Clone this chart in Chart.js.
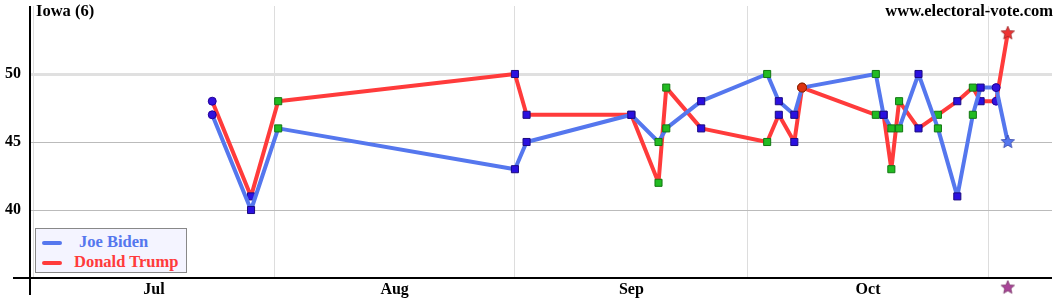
<!DOCTYPE html>
<html>
<head>
<meta charset="utf-8">
<script src="https://cdn.jsdelivr.net/npm/chart.js@4.4.0/dist/chart.umd.min.js"></script>
<style>
  body { margin: 0; background: #fff; }
  #wrap { position: relative; width: 1060px; height: 300px; font-family: 'Liberation Serif', 'Times New Roman', serif; font-weight: bold; }
  .tag { position: absolute; font-size: 16.5px; color: #000; line-height: 18px; }
  #state { left: 36px; top: 2px; }
  #site { right: 7px; top: 2px; }
  #legend { position: absolute; left: 35px; top: 228px; width: 150px; height: 43px; background: #f4f4ff; border: 1px solid #888; }
  .item { position: absolute; left: 6px; height: 20px; font-size: 16.5px; line-height: 20px; white-space: nowrap; }
  .swatch { display: inline-block; width: 20px; height: 4px; border-radius: 2px; vertical-align: middle; margin-right: 12px; }
</style>
</head>
<body>
<div id="wrap">
  <canvas id="myChart" width="1060" height="300"></canvas>
  <div class="tag" id="state"></div>
  <div class="tag" id="site"></div>
  <div id="legend"></div>
</div>
<script>
'use strict';

const stateTitle = 'Iowa (6)';
const siteName = 'www.electoral-vote.com';

// days counted from Jul 1
const monthNames = ['Jul', 'Aug', 'Sep', 'Oct'];
const monthStarts = [0, 31, 62, 92, 123];
const yTicks = [40, 45, 50];

const pollDays = [23, 28, 31.5, 62, 63.5, 77, 80.5, 81.5, 86, 94.5, 96, 98, 99, 108.5, 109.5, 110.5, 111.5, 114, 116.5, 119, 121, 122, 124, 125.5];
const biden = [47, 40, 46, 43, 45, 47, 45, 46, 48, 50, 48, 47, 49, 50, 47, 46, 46, 50, 46, 41, 47, 49, 49, 45];
const trump = [48, 41, 48, 50, 47, 47, 42, 49, 46, 45, 47, 45, 49, 47, 47, 43, 48, 46, 47, 48, 49, 48, 48, 53];
// c = circle, q = blue square, g = green square, r = red circle, s = star
const pollKind = ['c', 'q', 'g', 'q', 'q', 'q', 'g', 'g', 'q', 'g', 'q', 'q', 'r', 'g', 'q', 'g', 'g', 'q', 'g', 'q', 'g', 'q', 'c', 's'];

const electionDay = [125.5];
const electionMark = [34.3];

const bidenColor = '#5577ee';
const trumpColor = '#ff3b3b';

const ctx = document.getElementById('myChart');

function makeStar(fill, stroke, r) {
  let c = document.createElement('canvas');
  c.width = c.height = r * 2 + 2;
  let g = c.getContext('2d');
  g.beginPath();
  for (let i = 0; i < 10; i++) {
    let rad = (i % 2 == 0) ? r : r * 0.45;
    let a = -Math.PI / 2 + i * Math.PI / 5;
    g.lineTo(r + 1 + rad * Math.cos(a), r + 1 + rad * Math.sin(a));
  }
  g.closePath();
  g.fillStyle = fill;
  g.fill();
  g.strokeStyle = stroke;
  g.lineWidth = 0.8;
  g.stroke();
  return c;
}

const stars = {
  biden: makeStar(bidenColor, '#3344aa', 7),
  trump: makeStar('#ee3333', '#992222', 7),
  election: makeStar('#aa4499', '#773366', 7)
};

const kindStyle = {
  c: { style: 'circle', radius: 4, fill: '#3311dd', border: '#220099' },
  q: { style: 'rect', radius: 5, fill: '#2a10e0', border: '#1a0a80' },
  g: { style: 'rect', radius: 5, fill: '#22bb22', border: '#117711' },
  r: { style: 'circle', radius: 4.5, fill: '#dd3311', border: '#882200' }
};

function series(values) {
  return pollDays.map((d, i) => ({ x: d, y: values[i] }));
}

function pointOpts(starImg) {
  return {
    pointStyle: (c) => pollKind[c.dataIndex] == 's' ? starImg : kindStyle[pollKind[c.dataIndex]].style,
    pointRadius: (c) => pollKind[c.dataIndex] == 's' ? 7 : kindStyle[pollKind[c.dataIndex]].radius,
    pointBackgroundColor: (c) => pollKind[c.dataIndex] == 's' ? starImg : kindStyle[pollKind[c.dataIndex]].fill,
    pointBorderColor: (c) => pollKind[c.dataIndex] == 's' ? '#000' : kindStyle[pollKind[c.dataIndex]].border,
    pointBorderWidth: 1
  };
}

// the black axis lines stick out past each other, like the original
const axisLines = {
  id: 'axisLines',
  beforeDatasetsDraw(chart) {
    const a = chart.chartArea;
    const g = chart.ctx;
    g.save();
    g.strokeStyle = '#000';
    g.lineWidth = 2;
    g.beginPath();
    g.moveTo(a.left, a.top);
    g.lineTo(a.left, a.bottom + 17);
    g.moveTo(a.left - 17, a.bottom);
    g.lineTo(a.right, a.bottom);
    g.stroke();
    g.restore();
  }
};

// gridlines on month starts, labels in the middle of each month
let xTicks = [];
for (let i = 0; i < monthNames.length; i++) {
  xTicks.push({ value: monthStarts[i], label: '' });
  xTicks.push({ value: (monthStarts[i] + monthStarts[i + 1]) / 2, label: monthNames[i] });
}
xTicks.push({ value: monthStarts[monthStarts.length - 1], label: '' });

function buildChart() {
  let chartObj = {
    type: 'line',
    data: {
      datasets: [
        Object.assign({
          label: 'Joe Biden',
          data: series(biden),
          borderColor: bidenColor,
          borderWidth: 4,
          order: 0
        }, pointOpts(stars.biden)),
        Object.assign({
          label: 'Donald Trump',
          data: series(trump),
          borderColor: trumpColor,
          borderWidth: 4,
          order: 1
        }, pointOpts(stars.trump)),
        {
          label: 'Election Day',
          data: electionDay.map((d, i) => ({ x: d, y: electionMark[i] })),
          showLine: false,
          pointStyle: stars.election,
          pointRadius: 16,
          clip: false,
          order: 2
        }
      ]
    },
    options: {
      responsive: false,
      animation: false,
      elements: { line: { tension: 0, borderJoinStyle: 'round', borderCapStyle: 'round' } },
      layout: { autoPadding: false, padding: { top: 6, right: 8, left: 0, bottom: 0 } },
      plugins: { legend: { display: false }, tooltip: { enabled: false } },
      scales: {
        x: {
          type: 'linear',
          min: -0.48,
          max: 131.2,
          afterBuildTicks: (s) => { s.ticks = xTicks.map(t => ({ value: t.value })); },
          afterFit: (s) => { s.height = 22; },
          border: { display: false },
          grid: {
            drawTicks: false,
            color: (c) => (c.tick && monthStarts.includes(c.tick.value)) ? '#dddddd' : 'rgba(0,0,0,0)',
            lineWidth: 1
          },
          ticks: {
            autoSkip: false,
            maxRotation: 0,
            padding: 2,
            color: '#000',
            font: { family: "'Liberation Serif', serif", size: 16, weight: 'bold' },
            callback: (v) => { let t = xTicks.find(t => t.value == v); return t ? t.label : ''; }
          }
        },
        y: {
          min: 35,
          max: 55,
          afterBuildTicks: (s) => { s.ticks = yTicks.map(v => ({ value: v })); },
          afterFit: (s) => { s.width = 30; s.paddingTop = 0; s.paddingBottom = 0; },
          border: { display: false },
          grid: {
            drawTicks: false,
            color: (c) => c.tick && c.tick.value == 50 ? '#e0e0e0' : '#bbbbbb',
            lineWidth: (c) => c.tick && c.tick.value == 50 ? 3 : 1
          },
          ticks: {
            padding: 9,
            color: '#000',
            font: { family: "'Liberation Serif', serif", size: 16, weight: 'bold' }
          }
        }
      }
    },
    plugins: [axisLines]
  };
  new Chart(ctx, chartObj);
}

function buildText() {
  document.getElementById('state').textContent = stateTitle;
  document.getElementById('site').textContent = siteName;
  const legend = document.getElementById('legend');
  const entries = [
    { label: 'Joe Biden', color: bidenColor, top: 3, gap: 17 },
    { label: 'Donald Trump', color: trumpColor, top: 23, gap: 12 }
  ];
  entries.forEach(e => {
    let row = document.createElement('div');
    row.className = 'item';
    row.style.top = e.top + 'px';
    row.style.color = e.color;
    let sw = document.createElement('span');
    sw.className = 'swatch';
    sw.style.background = e.color;
    sw.style.marginRight = e.gap + 'px';
    row.appendChild(sw);
    row.appendChild(document.createTextNode(e.label));
    legend.appendChild(row);
  });
}

buildChart();
buildText();
</script>
</body>
</html>
